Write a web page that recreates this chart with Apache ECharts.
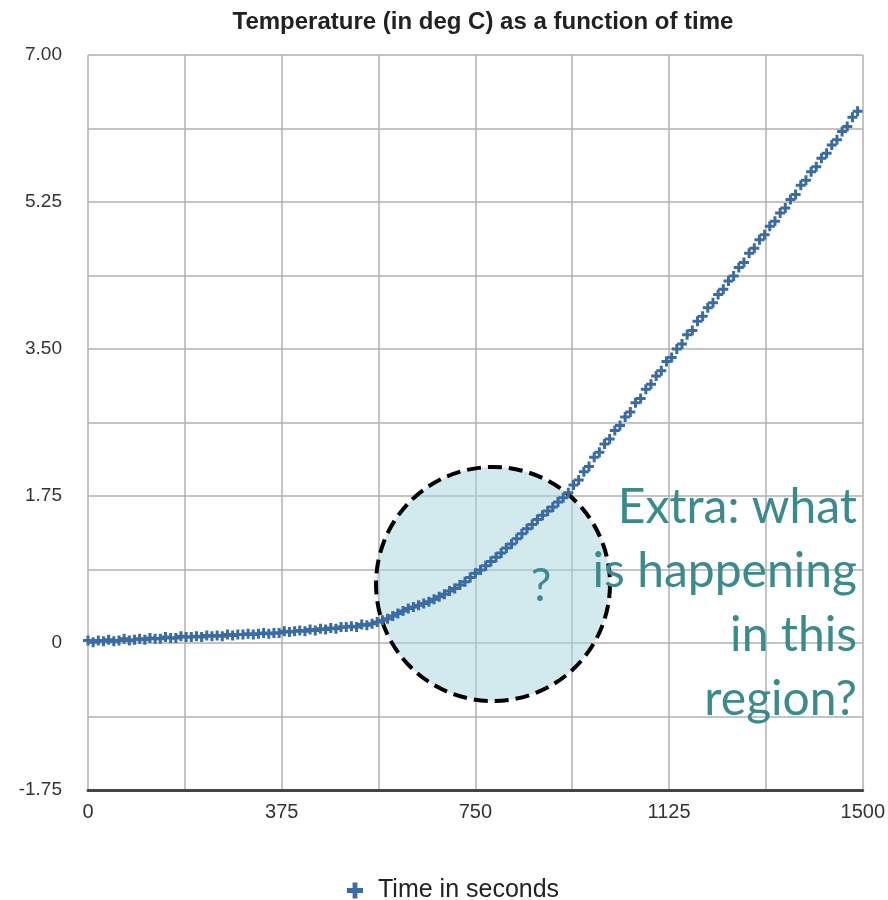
<!DOCTYPE html>
<html>
<head>
<meta charset="utf-8">
<script src="https://cdn.jsdelivr.net/npm/echarts@6/dist/echarts.min.js"></script>
<style>html,body{margin:0;padding:0;background:#fff}#c{width:888px;height:900px}</style>
</head>
<body>
<div id="c"></div>
<script>
const titleText = 'Temperature (in deg C) as a function of time';
const seriesName = 'Time in seconds';
const timeStep = 10;
const temps = [
0.03,0.01,0.03,0.02,0.04,0.02,0.03,0.05,0.03,0.04,
0.05,0.04,0.06,0.05,0.05,0.07,0.06,0.06,0.08,0.07,
0.07,0.08,0.07,0.09,0.08,0.09,0.08,0.10,0.09,0.10,
0.10,0.11,0.10,0.11,0.12,0.11,0.12,0.12,0.14,0.13,
0.14,0.15,0.14,0.16,0.15,0.17,0.16,0.18,0.17,0.19,
0.19,0.20,0.19,0.22,0.21,0.23,
0.25,0.27,0.29,0.32,0.35,0.38,0.41,0.43,0.45,0.47,
0.49,0.52,0.55,0.58,0.62,0.65,0.69,0.73,0.78,0.83,
0.87,0.92,0.97,1.02,1.07,1.13,1.18,1.24,1.30,1.36,
1.41,1.47,1.52,1.57,1.62,1.68,1.73,1.79,
1.88,1.94,2.04,2.10,2.21,2.27,2.37,2.43,2.53,2.59,
2.69,2.75,2.86,2.91,3.02,3.08,3.18,3.24,3.35,3.40,
3.50,3.56,3.67,3.72,3.83,3.89,3.99,4.05,4.15,4.21,
4.31,4.37,4.47,4.53,4.64,4.70,4.80,4.86,4.96,5.02,
5.12,5.18,5.28,5.34,5.45,5.51,5.61,5.67,5.77,5.83,
5.93,5.99,6.09,6.15,6.26,6.33
];
const xTicks = [0, 375, 750, 1125, 1500];
const yTicks = [-1.75, 0, 1.75, 3.50, 5.25, 7.00];
const noteLines = ['Extra: what', 'is happening', 'in this', 'region?'];

const points = temps.map((v, i) => [i * timeStep, v]);
const chart = echarts.init(document.getElementById('c'));
const plus = 'path://M3.5,0h3v3.5h3.5v3h-3.5v3.5h-3v-3.5h-3.5v-3h3.5z';
const isTick = (v, arr) => arr.some(t => Math.abs(t - v) < 1e-6);

chart.setOption({
  animation: false,
  title: {
    text: titleText, left: 478, top: 5, textAlign: 'center',
    textStyle: {fontFamily: 'Liberation Sans', fontSize: 24, fontWeight: 'bold', color: '#222'}
  },
  legend: {
    top: 873, left: 342, itemWidth: 16, itemHeight: 16, itemGap: 10,
    data: [{name: seriesName, icon: plus}],
    textStyle: {fontFamily: 'Liberation Sans', fontSize: 25, color: '#222', padding: [0, 0, 0, 10]}
  },
  grid: {left: 88, right: 20, top: 55, bottom: 110, containLabel: false},
  xAxis: {
    type: 'value', min: 0, max: 1500, interval: 187.5,
    axisLine: {show: true, onZero: false, lineStyle: {color: '#444', width: 3}},
    axisTick: {show: false},
    splitLine: {show: true, lineStyle: {color: '#b0b0b0', width: 1.5}},
    axisLabel: {
      margin: 12, fontFamily: 'Liberation Sans', fontSize: 20, color: '#333',
      formatter: v => isTick(v, xTicks) ? String(v) : ''
    }
  },
  yAxis: {
    type: 'value', min: -1.75, max: 7, interval: 0.875,
    axisLine: {show: false}, axisTick: {show: false},
    splitLine: {show: true, lineStyle: {color: '#b0b0b0', width: 1.5}},
    axisLabel: {
      margin: 26, fontFamily: 'Liberation Sans', fontSize: 19, color: '#333',
      formatter: v => isTick(v, yTicks) ? (Math.abs(v) < 1e-9 ? '0' : v.toFixed(2)) : ''
    }
  },
  series: [{
    name: seriesName, type: 'scatter', data: points, z: 5,
    symbol: plus, symbolSize: 10,
    itemStyle: {color: '#3a6ca3', opacity: 1}
  }],
  graphic: [
    {type: 'circle', z: 1, shape: {cx: 493, cy: 584, r: 117},
     style: {fill: 'rgba(165,212,220,0.5)', stroke: '#000', lineWidth: 4, lineDash: [14, 7]}},
    {type: 'text', z: 6, x: 541, y: 586,
     style: {text: '?', fontFamily: 'Lato', fontSize: 46, fill: '#3a8a8e', align: 'center', verticalAlign: 'middle'}},
    {type: 'text', z: 6, x: 857, y: 476,
     style: {text: noteLines.join('\n'), fontFamily: 'Lato', fontSize: 48, lineHeight: 64, align: 'right', verticalAlign: 'top', fill: '#3a8a8e'}}
  ]
});
</script>
</body>
</html>
